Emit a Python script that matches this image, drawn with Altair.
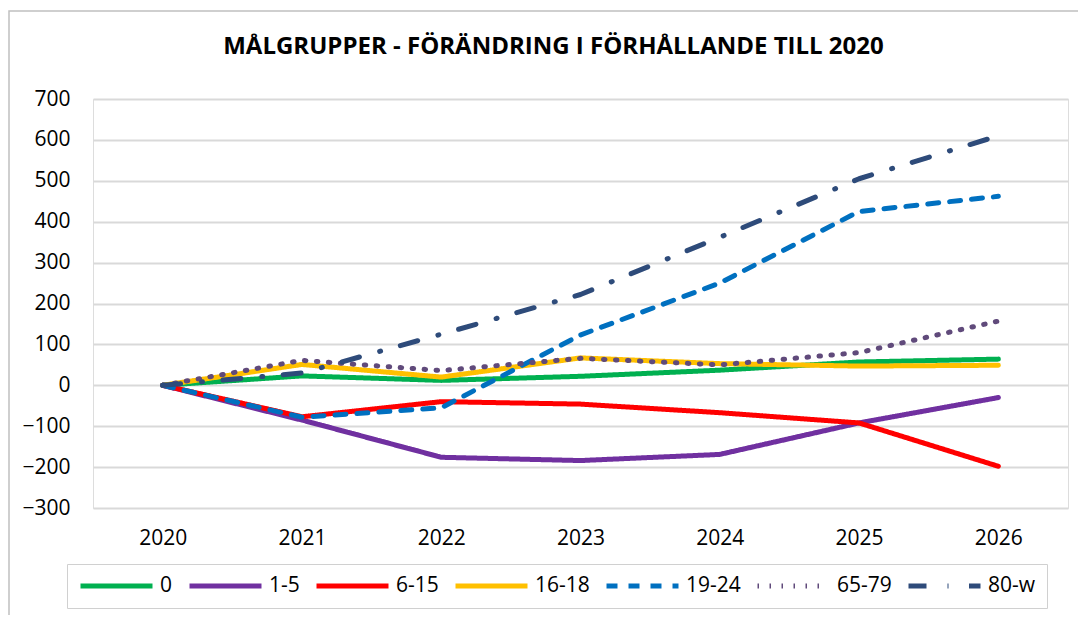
import altair as alt
import pandas as pd

years = ["2020", "2021", "2022", "2023", "2024", "2025", "2026"]
groups = ["0", "1-5", "6-15", "16-18", "19-24", "65-79", "80-w"]
g0 = [0, 23, 12, 22, 37, 57, 64]
g1_5 = [0, -85, -176, -184, -169, -92, -30]
g6_15 = [0, -77, -40, -46, -67, -92, -198]
g16_18 = [0, 51, 20, 67, 53, 47, 49]
g19_24 = [0, -78, -55, 123, 250, 425, 462]
g65_79 = [0, 61, 36, 66, 50, 80, 157]
g80_w = [0, 30, 125, 222, 362, 505, 610]
y_ticks = [-300, -200, -100, 0, 100, 200, 300, 400, 500, 600, 700]

colors = ["#00b050", "#7030a0", "#ff0000", "#ffc000", "#0070c0", "#604a7b", "#2e4b7a"]
dashes = [[1, 0], [1, 0], [1, 0], [1, 0], [11, 11], [1.5, 10.5], [18, 21, 1, 20.5]]

series = [g0, g1_5, g6_15, g16_18, g19_24, g65_79, g80_w]
rows = []
for gi, (g, vals) in enumerate(zip(groups, series)):
    for y, v in zip(years, vals):
        rows.append({"Year": y, "Group": g, "Value": v, "order": gi})
df = pd.DataFrame(rows)

FONT = "Open Sans"
TITLE = "MÅLGRUPPER - FÖRÄNDRING I FÖRHÅLLANDE TILL 2020"

legend = alt.Legend(title=None, orient="none", legendX=-26, legendY=465,
                    direction="horizontal", columns=7, gridAlign="each", clipHeight=22,
                    symbolType="stroke", symbolSize=5184, symbolStrokeWidth=5,
                    labelFontSize=21, labelFont=FONT, labelColor="black",
                    labelOffset=5, columnPadding=14, padding=11,
                    strokeColor="#d0d0d0")

lines = alt.Chart(df).mark_line(strokeWidth=5, strokeCap="round", strokeJoin="round").encode(
    x=alt.X("Year:O", sort=years, scale=alt.Scale(type="point", padding=0.5),
            axis=alt.Axis(title=None, labelAngle=0, domain=False, ticks=False, labelPadding=19,
                          labelFontSize=21, labelFont=FONT, labelColor="black", grid=False)),
    y=alt.Y("Value:Q", scale=alt.Scale(domain=[-300, 700], nice=False, zero=False),
            axis=alt.Axis(title=None, values=y_ticks, domain=False, ticks=False, labelPadding=23,
                          labelFontSize=21, labelFont=FONT, labelColor="black",
                          gridColor="#d9d9d9", gridWidth=2)),
    color=alt.Color("Group:N", sort=groups, scale=alt.Scale(domain=groups, range=colors), legend=legend),
    strokeDash=alt.StrokeDash("Group:N", sort=groups, scale=alt.Scale(domain=groups, range=dashes),
                              legend=legend),
    order=alt.Order("order:Q"),
)

frame = alt.Chart(alt.Data(values=[{}])).mark_rect(fill="transparent", stroke="#c0c0c0", strokeWidth=1.5).encode(
    x=alt.value(-84), x2=alt.value(1100), y=alt.value(-88), y2=alt.value(640)
)

chart = alt.layer(frame, lines).properties(
    width=975, height=409,
    padding={"left": 85, "top": 91, "right": 10, "bottom": 107},
    autosize=alt.AutoSizeParams(type="none"),
    title=alt.TitleParams(TITLE, font=FONT, fontSize=24,
                          fontWeight="bold", color="black", anchor="middle", dx=-27, frame="group",
                          baseline="alphabetic", offset=41, dy=109),
).configure_view(stroke="black", strokeWidth=2).configure(background="white")

chart.save("out.html", embed_options={"renderer": "svg", "actions": False})
